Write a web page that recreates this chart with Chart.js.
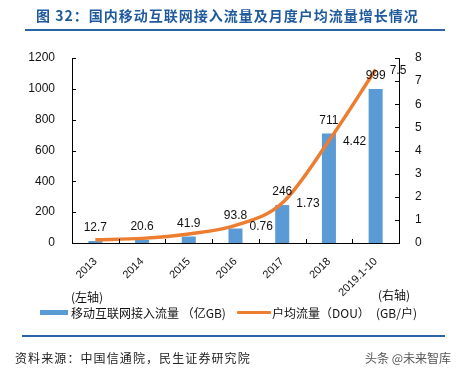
<!DOCTYPE html>
<html>
<head>
<meta charset="utf-8">
<script src="https://cdn.jsdelivr.net/npm/chart.js@4"></script>
<style>
html,body{margin:0;padding:0;background:#fff;}
#wrap{position:relative;width:459px;height:375px;overflow:hidden;}
canvas{position:absolute;left:0;top:0;}
.t{position:absolute;white-space:nowrap;}
#title{left:36px;top:5px;font:bold 14px "Noto Sans CJK SC",sans-serif;color:#1F5A9C;letter-spacing:1px;}
#hr1{position:absolute;left:25px;top:29px;width:420px;height:2px;background:#2A64A6;}
#hr2{position:absolute;left:22px;top:335px;width:423px;height:2px;background:#2A64A6;}
#src{left:15px;top:349px;font:12px "Noto Sans CJK SC",sans-serif;color:#222;letter-spacing:1.1px;}
#wm{left:365px;top:349px;font:12px "Noto Sans CJK SC",sans-serif;color:#555;}
.lg{font:12px "Noto Sans CJK SC",sans-serif;color:#111;}
</style>
</head>
<body>
<div id="wrap">
<canvas id="c" width="459" height="375"></canvas>
<div class="t" id="title">图 32：国内移动互联网接入流量及月度户均流量增长情况</div>
<div id="hr1"></div>
<div class="t lg" style="left:71px;top:288px;">(左轴)</div>
<div class="t lg" style="left:378px;top:286px;">(右轴)</div>
<div style="position:absolute;left:40px;top:310px;width:28px;height:5px;background:#5B9BD5;"></div>
<div class="t lg" style="left:71px;top:304px;">移动互联网接入流量 （亿GB)</div>
<div style="position:absolute;left:237px;top:311px;width:34px;height:3px;background:#ED7D31;border-radius:1px;"></div>
<div class="t lg" style="left:272px;top:304px;">户均流量（DOU）</div>
<div class="t lg" style="left:376px;top:304px;">(GB/户)</div>
<div id="hr2"></div>
<div class="t" id="src">资料来源：中国信通院，民生证券研究院</div>
<div class="t" id="wm">头条 @未来智库</div>
</div>
<script>
const categories = ['2013','2014','2015','2016','2017','2018','2019.1-10'];
const trafficValues = [12.7, 20.6, 41.9, 93.8, 246, 711, 999];
const douValues = [0.14, 0.2, 0.39, 0.76, 1.73, 4.42, 7.5];
const douLabels = ['', '', '', '0.76', '1.73', '4.42', '7.5'];
const leftTicks = [0, 200, 400, 600, 800, 1000, 1200];
const rightTicks = [0, 1, 2, 3, 4, 5, 6, 7, 8];

const numFont = '"Liberation Sans", Arial, sans-serif';

const axesPlugin = {
  id: 'axesPlugin',
  afterDatasetsDraw(chart) {
    const ctx = chart.ctx;
    const a = chart.chartArea;
    const y = chart.scales.y, y1 = chart.scales.y1;
    ctx.save();
    ctx.strokeStyle = '#000';
    ctx.lineWidth = 1;
    ctx.beginPath();
    ctx.moveTo(Math.round(a.left) + 0.5, a.top);
    ctx.lineTo(Math.round(a.left) + 0.5, a.bottom);
    ctx.moveTo(Math.round(a.right) + 0.5, a.top);
    ctx.lineTo(Math.round(a.right) + 0.5, a.bottom);
    ctx.moveTo(a.left, Math.round(a.bottom) + 0.5);
    ctx.lineTo(a.right + 1, Math.round(a.bottom) + 0.5);
    leftTicks.forEach(v => {
      const py = Math.round(y.getPixelForValue(v)) + 0.5;
      ctx.moveTo(a.left, py); ctx.lineTo(a.left + 4, py);
    });
    rightTicks.forEach(v => {
      const py = Math.round(y1.getPixelForValue(v)) + 0.5;
      ctx.moveTo(a.right, py); ctx.lineTo(a.right - 4, py);
    });
    for (let i = 0; i <= categories.length; i++) {
      const px = Math.round(a.left + (a.right - a.left) * i / categories.length) + 0.5;
      ctx.moveTo(px, a.bottom); ctx.lineTo(px, a.bottom - 4);
    }
    ctx.stroke();
    ctx.restore();
  },
  afterDraw(chart) {
    const ctx = chart.ctx;
    ctx.save();
    ctx.fillStyle = '#111';
    ctx.font = '12px ' + numFont;
    const barMeta = chart.getDatasetMeta(0);
    ctx.textAlign = 'center';
    ctx.textBaseline = 'middle';
    barMeta.data.forEach((el, i) => {
      ctx.fillText(String(trafficValues[i]), el.x, el.y - 13);
    });
    const lineMeta = chart.getDatasetMeta(1);
    ctx.textAlign = 'left';
    lineMeta.data.forEach((el, i) => {
      if (douLabels[i]) ctx.fillText(douLabels[i], el.x + 14, el.y + 1);
    });
    ctx.restore();
  }
};

new Chart(document.getElementById('c'), {
  type: 'bar',
  data: {
    labels: categories,
    datasets: [
      {
        type: 'bar',
        data: trafficValues,
        yAxisID: 'y',
        backgroundColor: '#5B9BD5',
        barPercentage: 0.6,
        categoryPercentage: 0.5,
        order: 2
      },
      {
        type: 'line',
        data: douValues,
        yAxisID: 'y1',
        borderColor: '#ED7D31',
        borderWidth: 3.5,
        pointRadius: 0,
        tension: 0.4,
        cubicInterpolationMode: 'monotone',
        fill: false,
        order: 1
      }
    ]
  },
  options: {
    responsive: false,
    animation: false,
    devicePixelRatio: 1,
    layout: { padding: { top: 58, left: 0, right: 0, bottom: 0 } },
    plugins: { legend: { display: false }, tooltip: { enabled: false } },
    scales: {
      x: {
        grid: { display: false },
        border: { display: false },
        ticks: {
          minRotation: 45, maxRotation: 45, autoSkip: false,
          padding: 4,
          color: '#111',
          font: { family: numFont, size: 11 }
        },
        afterFit(s) { s.height = 132; }
      },
      y: {
        position: 'left',
        min: 0, max: 1200,
        grid: { display: false },
        border: { display: false },
        ticks: {
          stepSize: 200, padding: 9, color: '#111',
          font: { family: numFont, size: 12 },
          callback: v => String(v)
        },
        afterFit(s) { s.width = 72; }
      },
      y1: {
        position: 'right',
        min: 0, max: 8,
        grid: { display: false },
        border: { display: false },
        ticks: {
          stepSize: 1, padding: 8, color: '#111',
          font: { family: numFont, size: 12 },
          callback: v => String(v)
        },
        afterFit(s) { s.width = 60; }
      }
    }
  },
  plugins: [axesPlugin]
});
</script>
</body>
</html>
